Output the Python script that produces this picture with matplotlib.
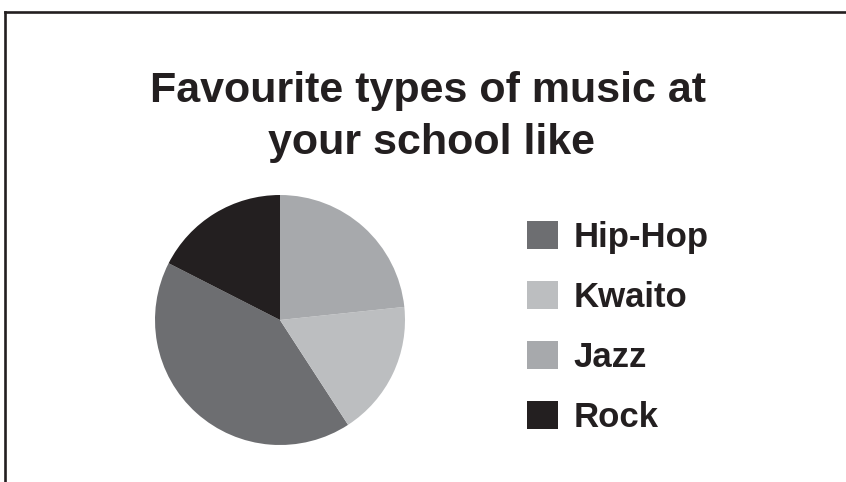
import matplotlib.pyplot as plt
from matplotlib.lines import Line2D

# Datos del gráfico
genres = ['Hip-Hop', 'Kwaito', 'Jazz', 'Rock']
votes = [25, 10.5, 14, 10.5]
colors = ['#6d6e71', '#bcbec0', '#a7a9ac', '#231f20']
title_lines = ['Favourite types of music at', 'your school like']

plt.rcParams['font.family'] = ['Liberation Sans', 'DejaVu Sans']

W, H = 846, 482
fig = plt.figure(figsize=(W / 100, H / 100), dpi=100)
fig.patch.set_facecolor('white')

# Marco parcial (superior e izquierdo)
fig.add_artist(Line2D([5 / W, 1.0], [1 - 11.5 / H, 1 - 11.5 / H],
                      transform=fig.transFigure, color='#231f20', lw=1.9))
fig.add_artist(Line2D([5 / W, 5 / W], [0.0, 1 - 11.5 / H],
                      transform=fig.transFigure, color='#231f20', lw=1.9))

# Título (dos líneas, alineadas por la línea base)
for text, x, y in zip(title_lines, [428, 431.5], [101.7, 154.3]):
    fig.text(x / W, 1 - y / H, text, ha='center', va='baseline',
             fontsize=31, fontweight='bold', color='#231f20')

# Pastel
cx, cy, r = 280, 320, 125
ax = fig.add_axes([(cx - r) / W, (H - cy - r) / H, 2 * r / W, 2 * r / H])
wedges, _ = ax.pie(votes, colors=colors, startangle=90 + 360 * votes[-1] / sum(votes),
                   counterclock=True, radius=1.0,
                   wedgeprops=dict(linewidth=0, edgecolor='none'))
ax.set_xlim(-1, 1)
ax.set_ylim(-1, 1)
ax.set_aspect('equal')
ax.axis('off')

# Leyenda
leg = fig.legend(wedges, genres, loc='upper left',
                 bbox_to_anchor=(527.3 / W, 1 - 221 / H),
                 frameon=False, prop=dict(size=25, weight='bold'),
                 handlelength=0.88, handleheight=0.88, handletextpad=0.44,
                 labelspacing=0.77, borderaxespad=0, borderpad=0)
for t in leg.get_texts():
    t.set_color('#231f20')

fig.savefig('out.png', dpi=100, facecolor='white')
